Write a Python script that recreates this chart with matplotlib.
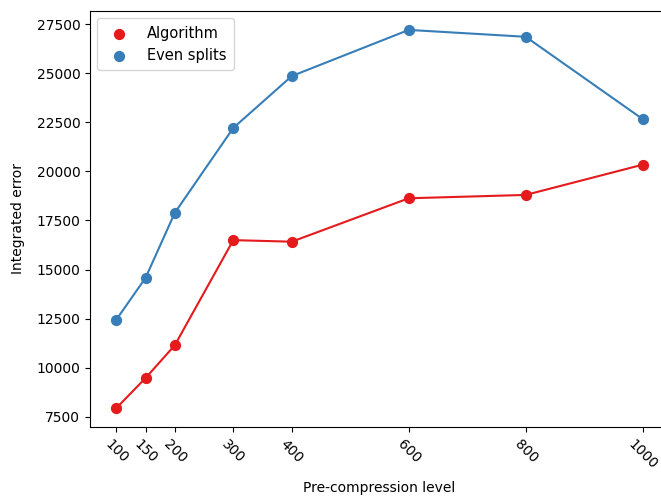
import matplotlib
matplotlib.use('Agg')
import matplotlib.pyplot as plt

levels = [100, 150, 200, 300, 400, 600, 800, 1000]
algorithm_err = [7950, 9480, 11150, 16500, 16420, 18630, 18800, 20340]
even_err = [12450, 14580, 17890, 22210, 24850, 27200, 26850, 22660]

fig = plt.figure(figsize=(6.61, 4.97), dpi=100)
ax = fig.add_axes([90 / 661, 70 / 497, 579 / 661, 416 / 497])

ax.plot(levels, algorithm_err, color='#e41a1c')
ax.scatter(levels, algorithm_err, color='#e41a1c', s=50, label='Algorithm')
ax.plot(levels, even_err, color='#377eb8')
ax.scatter(levels, even_err, color='#377eb8', s=50, label='Even splits')

ax.set_xticks(levels)
ax.set_xticklabels([str(l) for l in levels], rotation=-45)
ax.set_xlabel('Pre-compression level', labelpad=7)
ax.set_ylabel('Integrated error', labelpad=8)
ax.legend(loc='upper left', prop={'size': 10.5}, handletextpad=0.9,
          borderpad=0.5)

plt.savefig('out.png', dpi=100)
